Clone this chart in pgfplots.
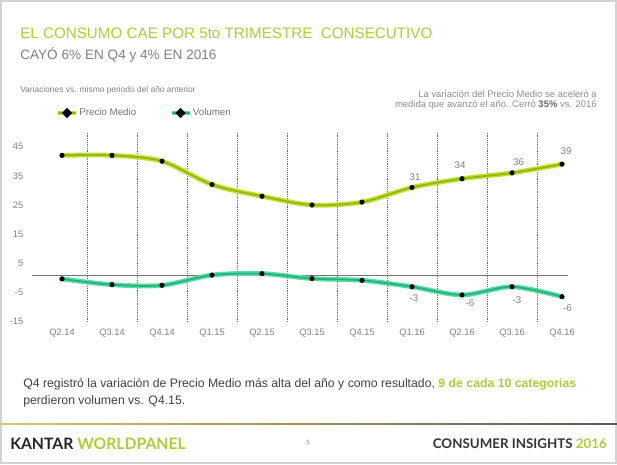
\documentclass[border=0pt]{standalone}
\usepackage{pgfplots}
\pgfplotsset{compat=1.18}
\usepackage{fontspec}
\setmainfont{Liberation Sans}
\newfontfamily\footfont{Lato}
\definecolor{kgreen}{HTML}{A8CF38}
\definecolor{pmOuter}{HTML}{C2E02A}
\definecolor{pmInner}{HTML}{8CB81C}
\definecolor{voOuter}{HTML}{55DDA6}
\definecolor{voInner}{HTML}{2AAE7C}
\definecolor{txtgray}{HTML}{808080}
\definecolor{darktxt}{HTML}{404040}
\pgfplotstableread{
x pm vo
0 42 -0.3
1 42 -2.3
2 40 -2.5
3 32 1.0
4 28 1.5
5 25 -0.2
6 26 -0.8
7 31 -3.0
8 34 -5.8
9 36 -3.0
10 39 -6.4
}\data
\begin{document}
\begin{tikzpicture}
\begin{scope}[x=0.75pt,y=0.75pt]
\path[use as bounding box] (0,0) rectangle (617,464);
\draw[black!17, line width=1.2pt] (0.8,0.8) rectangle (616.2,463.2);
% titles
\node[anchor=base west, inner sep=0, font=\fontsize{11.4}{13}\selectfont, text=kgreen] at (20,425.5) {EL CONSUMO CAE POR 5to TRIMESTRE\ \ CONSECUTIVO};
\node[anchor=base west, inner sep=0, font=\fontsize{10.2}{12}\selectfont, text=txtgray] at (20,404) {CAYÓ 6\% EN Q4 y 4\% EN 2016};
\node[anchor=base west, inner sep=0, font=\fontsize{6.3}{7}\selectfont, text=txtgray] at (20,371.5) {Variaciones vs. mismo periodo del año anterior};
\node[anchor=base east, inner sep=0, font=\fontsize{7.1}{8}\selectfont, text=txtgray!90] at (597,366.5) {La variación del Precio Medio se aceleró a};
\node[anchor=base east, inner sep=0, font=\fontsize{7.1}{8}\selectfont, text=txtgray!90] at (597,356) {medida que avanzó el año. Cerró \textbf{\color{darktxt!80}35\%} vs. 2016};
% bottom text
\node[anchor=base west, inner sep=0, font=\fontsize{9.2}{11}\selectfont, text=darktxt] at (23,77) {Q4 registró la variación de Precio Medio más alta\ del año y como resultado, \textbf{\color{kgreen}9 de cada 10 categorias}};
\node[anchor=base west, inner sep=0, font=\fontsize{9.2}{11}\selectfont, text=darktxt] at (23,60) {perdieron volumen vs. Q4.15.};
% footer
\shade[left color=kgreen!60!orange!70, right color=black!65] (0,39.2) rectangle (617,40.8);
\node[anchor=base west, inner sep=0, font=\footfont\fontsize{11.8}{13}\selectfont\bfseries] at (10,15) {\color{black!85}KANTAR \color{kgreen}WORLDPANEL};
\node[anchor=base east, inner sep=0, font=\footfont\fontsize{10}{11}\selectfont\bfseries] at (607,16) {\color{black!80}CONSUMER INSIGHTS \color{kgreen}2016};
\node[anchor=base, inner sep=0, font=\fontsize{4.5}{5}\selectfont, text=txtgray] at (308,20) {5};
\end{scope}
\begin{axis}[
  at={(24pt,106.65pt)}, anchor=south west,
  scale only axis, width=402pt, height=142.35pt,
  xmin=-0.6, xmax=10.12, ymin=-15, ymax=50,
  axis line style={draw=none},
  major tick length=0pt, minor tick length=0pt,
  xtick={0,...,10},
  xticklabels={Q2.14,Q3.14,Q4.14,Q1.15,Q2.15,Q3.15,Q4.15,Q1.16,Q2.16,Q3.16,Q4.16},
  ytick={-15,-5,5,15,25,35,45},
  minor xtick={0.5,1.5,...,9.5},
  xminorgrids,
  minor grid style={densely dotted, black!60, line width=0.6pt},
  ticklabel style={font=\fontsize{7}{8}\selectfont, text=txtgray},
  /pgf/number format/assume math mode=true,
  yticklabel style={xshift=-3pt},
  xticklabel style={yshift=-2pt},
  clip=false,
  legend columns=2,
  legend style={draw=none, fill=none, at={(rel axis cs:0.037,1.10)}, anchor=west,
     font=\fontsize{7.3}{8}\selectfont, text=txtgray!90!black,
     nodes={inner xsep=1pt},
     /tikz/every even column/.append style={column sep=24pt}},
  legend cell align=left,
]
\draw[black!55, line width=0.6pt] (axis cs:-0.6,0.8) -- (axis cs:10.12,0.8);
\addplot[pmOuter, line width=3.6pt, smooth, tension=0.5,
  legend image code/.code={\draw[pmOuter, line width=3pt] (0pt,0pt) -- (13.5pt,0pt); \draw[pmInner, line width=1pt] (0pt,0pt) -- (13.5pt,0pt); \fill[black] (6.75pt,0pt) circle (1.3pt);}]
  table[x=x, y=pm] {\data};
\addlegendentry{Precio Medio}
\addplot[voOuter, line width=3.6pt, smooth, tension=0.5,
  legend image code/.code={\draw[voOuter, line width=3pt] (0pt,0pt) -- (13.5pt,0pt); \draw[voInner, line width=1pt] (0pt,0pt) -- (13.5pt,0pt); \fill[black] (6.75pt,0pt) circle (1.3pt);}]
  table[x=x, y=vo] {\data};
\addlegendentry{Volumen}
\addplot[pmInner, line width=1.3pt, smooth, tension=0.5, forget plot] table[x=x, y=pm] {\data};
\addplot[voInner, line width=1.3pt, smooth, tension=0.5, forget plot] table[x=x, y=vo] {\data};
\addplot[only marks, mark=*, mark size=1.7pt, black, forget plot] table[x=x, y=pm] {\data};
\addplot[only marks, mark=*, mark size=1.7pt, black, forget plot] table[x=x, y=vo] {\data};
% data labels
\begin{scope}[every node/.style={font=\fontsize{7.3}{8}\selectfont, text=txtgray, inner sep=0}]
\node at (axis cs:7.06,34.5) {31};
\node at (axis cs:7.96,38.7) {34};
\node at (axis cs:9.13,39.6) {36};
\node at (axis cs:10.08,43.5) {39};
\node at (axis cs:7.04,-6.95) {-3};
\node at (axis cs:8.16,-8.7) {-6};
\node at (axis cs:9.1,-7.5) {-3};
\node at (axis cs:10.11,-10.4) {-6};
\end{scope}
\end{axis}
\end{tikzpicture}
\end{document}
